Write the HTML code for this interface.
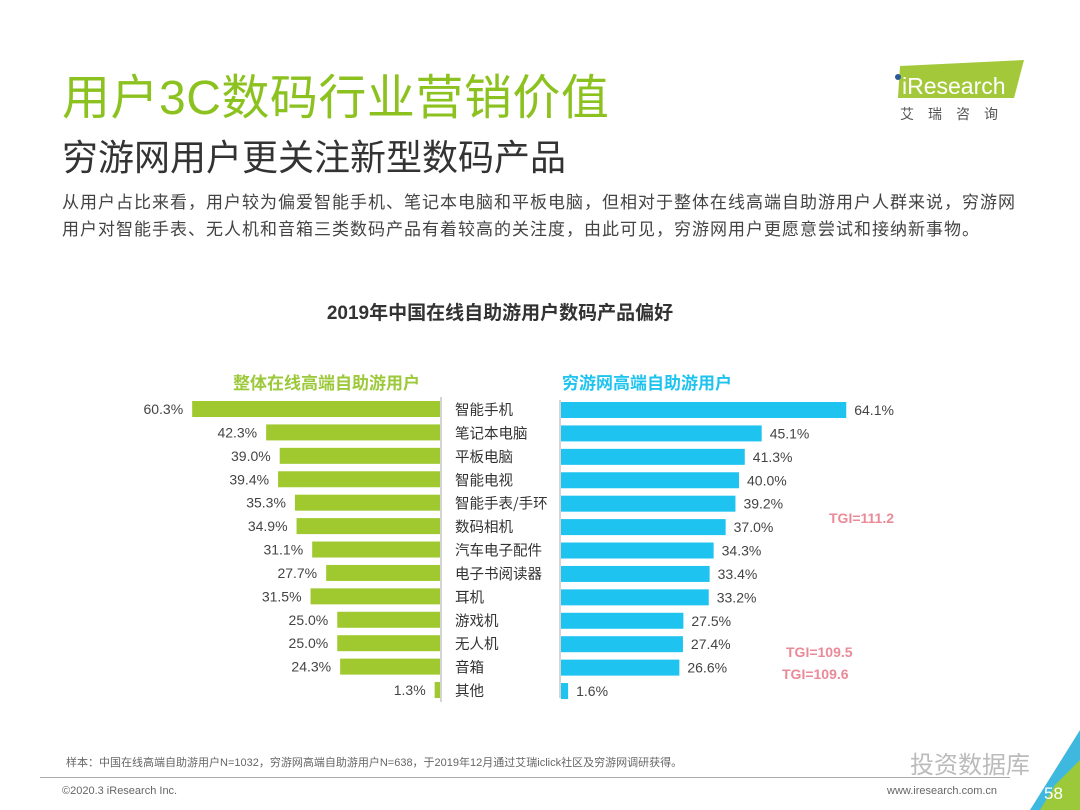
<!DOCTYPE html>
<html><head><meta charset="utf-8"><style>
body{margin:0;width:1080px;height:810px;overflow:hidden;background:#fff;font-family:"Liberation Sans","Noto Sans CJK SC",sans-serif;position:relative}
.a{position:absolute;white-space:nowrap}
</style></head><body>
<div class="a" style="left:62px;top:58px;font-size:48px;color:#8cc21f;letter-spacing:0.5px">用户3C数码行业营销价值</div>
<div class="a" style="left:62px;top:129px;font-size:36px;color:#333">穷游网用户更关注新型数码产品</div>
<div class="a" style="left:62px;top:189px;font-size:17px;letter-spacing:1.0px;line-height:27px;color:#444">从用户占比来看，用户较为偏爱智能手机、笔记本电脑和平板电脑，但相对于整体在线高端自助游用户人群来说，穷游网<br>用户对智能手表、无人机和音箱三类数码产品有着较高的关注度，由此可见，穷游网用户更愿意尝试和接纳新事物。</div>
<div class="a" style="left:890px;top:58px;width:140px;height:64px">
<svg width="140" height="64"><polygon points="10,8 134,2 124,40 8,40" fill="#a3c93a"/><circle cx="8" cy="19" r="3" fill="#2a5a9a"/>
<text x="12" y="36" font-size="23" fill="#fff" font-family="Liberation Sans">iResearch</text>
<text x="10" y="61" font-size="14" fill="#555" letter-spacing="14" font-family="Noto Sans CJK SC">艾瑞咨询</text></svg></div>
<div class="a" style="left:0;width:1000px;text-align:center;top:298px;font-size:19px;font-weight:bold;color:#333">2019年中国在线自助游用户数码产品偏好</div>
<div class="a" style="left:233px;top:369px;font-size:17px;font-weight:bold;color:#9cc93a">整体在线高端自助游用户</div>
<div class="a" style="left:562px;top:369px;font-size:17px;font-weight:bold;color:#1fc3ef">穷游网高端自助游用户</div>
<svg id="chart" class="a" style="left:0;top:0" width="1080" height="810"></svg>
<div class="a" style="left:829px;top:510px;font-size:14px;font-weight:bold;color:#ea8a98">TGI=111.2</div>
<div class="a" style="left:786px;top:644px;font-size:14px;font-weight:bold;color:#ea8a98">TGI=109.5</div>
<div class="a" style="left:782px;top:666px;font-size:14px;font-weight:bold;color:#ea8a98">TGI=109.6</div>
<div class="a" style="left:66px;top:754px;font-size:11px;color:#666">样本：中国在线高端自助游用户N=1032，穷游网高端自助游用户N=638，于2019年12月通过艾瑞iclick社区及穷游网调研获得。</div>
<div class="a" style="left:40px;top:777px;width:970px;height:1px;background:#aaa"></div>
<div class="a" style="left:62px;top:785px;font-size:11px;color:#666">©2020.3 iResearch Inc.</div>
<div class="a" style="left:887px;top:785px;font-size:11px;color:#666">www.iresearch.com.cn</div>
<div class="a" style="left:910px;top:745px;font-size:24px;color:#bbb">投资数据库</div>
<svg class="a" style="left:1030px;top:730px" width="50" height="80"><polygon points="50,0 50,40 20,80 0,80" fill="#3fb8e0"/><polygon points="50,30 50,80 10,80 25,55" fill="#9cc93a"/><text x="14" y="69" font-size="17" fill="#fff" font-family="Liberation Sans">58</text></svg>
<script>
const categories=["智能手机","笔记本电脑","平板电脑","智能电视","智能手表/手环","数码相机","汽车电子配件","电子书阅读器","耳机","游戏机","无人机","音箱","其他"];
const overall=[60.3,42.3,39.0,39.4,35.3,34.9,31.1,27.7,31.5,25.0,25.0,24.3,1.3];
const qyer=[64.1,45.1,41.3,40.0,39.2,37.0,34.3,33.4,33.2,27.5,27.4,26.6,1.6];
const svg=document.getElementById('chart');const NS='http://www.w3.org/2000/svg';
const y0=409,dy=23.42,bh=16,lx=440,rx=561,ls=4.11,rs=4.45;
function mk(t,a){const e=document.createElementNS(NS,t);for(const k in a)e.setAttribute(k,a[k]);svg.appendChild(e);return e;}
let ax=mk('line',{x1:441,y1:397,x2:441,y2:702,stroke:'#aaa'});


ax=mk('line',{x1:560,y1:400,x2:560,y2:698,stroke:'#aaa'});


categories.forEach((c,i)=>{const cy=y0+i*dy;
 const w1=overall[i]*ls;
 let r=mk('rect',{x:lx-w1,y:cy-bh/2,width:w1,height:bh,fill:'#9fc92f'});
 
 
 let t=mk('text',{x:lx-w1-9,y:cy+5,'font-size':14,fill:'#444','text-anchor':'end','font-family':'Liberation Sans'});t.textContent=overall[i].toFixed(1)+'%';
 
 
 const w2=qyer[i]*rs;
 r=mk('rect',{x:rx,y:cy-bh/2+1,width:w2,height:bh,fill:'#1fc3ef'});
 
 
 t=mk('text',{x:rx+w2+8,y:cy+6,'font-size':14,fill:'#444','font-family':'Liberation Sans'});t.textContent=qyer[i].toFixed(1)+'%';
 
 
 t=mk('text',{x:455,y:cy+6,'font-size':14.5,fill:'#333','font-family':'Noto Sans CJK SC'});t.textContent=c;
 
 
});
</script>
</body></html>
